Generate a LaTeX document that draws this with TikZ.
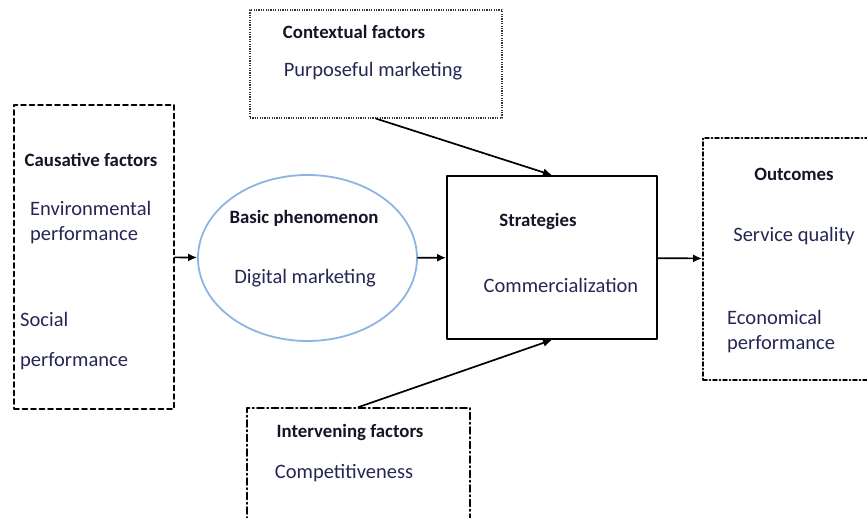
\documentclass[tikz,border=0pt]{standalone}
\usepackage{fontspec}
\setmainfont{Carlito}
\usetikzlibrary{shapes.geometric,arrows.meta}
\definecolor{headink}{RGB}{20,20,40}
\definecolor{bodyink}{RGB}{38,38,85}
\definecolor{ringblue}{RGB}{142,180,227}
\begin{document}
\begin{tikzpicture}[x=1pt,y=-1pt,line cap=round,line join=round,
  every node/.style={font=\fontsize{20.5}{25}\selectfont},
  head/.style={text=headink,font=\fontsize{18.8}{25}\selectfont\bfseries,inner sep=0pt},
  body/.style={text=bodyink,inner sep=0pt},
  box/.style={draw,rectangle,inner sep=0pt,line width=1.8pt},
  arr/.style={-{Latex[length=9pt,width=8pt]},line width=1.7pt}]
\useasboundingbox (0,0) rectangle (867,518);
\clip (0,0) rectangle (867,518);
% boxes
\node [box,dash pattern=on 5pt off 3.5pt,minimum width=160,minimum height=304] (cause) at (94,257) {};
\node [draw=ringblue,ellipse,line width=1.8pt,inner sep=0pt,minimum width=219,minimum height=166] (phen) at (307.5,258) {};
\node [box,minimum width=210,minimum height=163] (strat) at (552,257.5) {};
\node [box,dash pattern=on 4pt off 2.5pt on 1pt off 2.5pt,minimum width=177,minimum height=242] (outc) at (791.5,259) {};
\node [box,line width=1.2pt,draw=black!80,line cap=butt,dash pattern=on 1.2pt off 1.2pt,minimum width=252,minimum height=108] (ctx) at (376,64) {};
\node [box,dash pattern=on 7pt off 3pt on 1.5pt off 3pt,minimum width=223,minimum height=122] (interv) at (358.5,469) {};
% texts
\node [head] (causeh) at (91,160) {Causative factors};
\node [body,anchor=west,align=left] (env) at (30,223) {Environmental\\performance};
\node [body,anchor=west] (soc) at (20,319) {Social};
\node [body,anchor=west] (socp) at (20,361) {performance};
\node [head] (phenh) at (304,218) {Basic phenomenon};
\node [body] (digi) at (305,278) {Digital marketing};
\node [head] (strath) at (538,221) {Strategies};
\node [body] (comm) at (561,285) {Commercialization};
\node [head] (outch) at (794,174) {Outcomes};
\node [body] (serv) at (794,236) {Service quality};
\node [body,anchor=west,align=left] (econ) at (727,332) {Economical\\performance};
\node [head] (ctxh) at (354,32) {Contextual factors};
\node [body] (purp) at (373,71) {Purposeful marketing};
\node [head] (intervh) at (350,432) {Intervening factors};
\node [body] (comp) at (344,473) {Competitiveness};
% links
\draw [arr] (cause) -- (phen);
\draw [arr] (phen) -- (strat);
\draw [arr] (strat) -- (outc);
\draw [arr] (ctx.south) -- (strat.north);
\draw [arr] (interv.north) -- (strat.south);
\end{tikzpicture}
\end{document}
